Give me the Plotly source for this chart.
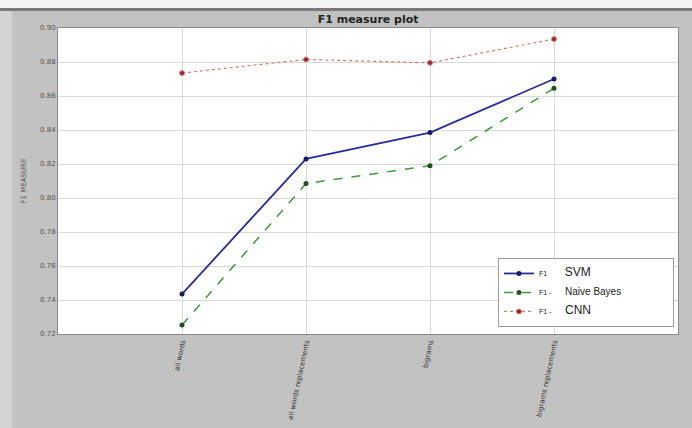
import plotly.graph_objects as go

categories = ["all words", "all words replacements", "bigrams", "bigrams replacements"]
svm = [0.7435, 0.823, 0.8385, 0.870]
naive_bayes = [0.7253, 0.8085, 0.819, 0.8645]
cnn = [0.8735, 0.8815, 0.8795, 0.8935]
y_ticks = [0.72, 0.74, 0.76, 0.78, 0.80, 0.82, 0.84, 0.86, 0.88, 0.90]

x = list(range(len(categories)))

sp = "&nbsp;"
fig = go.Figure()
fig.add_trace(go.Scatter(
    x=x, y=svm, mode="lines+markers",
    name="F1 " + sp * 8 + "<span style='font-size:12px'>SVM</span>",
    line=dict(color="#2b2b9c", width=1.8),
    marker=dict(color="#1a1a6a", size=5)))
fig.add_trace(go.Scatter(
    x=x, y=naive_bayes, mode="lines+markers",
    name="F1 - " + sp * 6 + "<span style='font-size:10px'>Naive Bayes</span>" + sp * 24,
    line=dict(color="#3c9a3c", width=1.5, dash="dash"),
    marker=dict(color="#1f4f1f", size=5)))
fig.add_trace(go.Scatter(
    x=x, y=cnn, mode="lines+markers",
    name="F1 - " + sp * 6 + "<span style='font-size:12px'>CNN</span>",
    line=dict(color="#d77a6a", width=1.2, dash="dot"),
    marker=dict(color="#8a2a2a", size=5, line=dict(color="#e08080", width=1))))

H = 306.0
W = 620.0
fig.update_layout(
    width=692, height=428,
    margin=dict(l=58, r=14, t=28, b=94, pad=0),
    paper_bgcolor="#c2c2c2",
    plot_bgcolor="#ffffff",
    font=dict(family="DejaVu Sans", color="#333333", size=7),
    title=dict(text="<b>F1 measure plot</b>", x=0.532, xanchor="center",
               y=1 - 19 / 428, yanchor="middle",
               font=dict(family="DejaVu Sans", size=11, color="#222222")),
    showlegend=True,
    legend=dict(x=0.9935, y=0.023, xanchor="right", yanchor="bottom",
                bgcolor="#ffffff", bordercolor="#9a9a9a", borderwidth=1,
                font=dict(family="Liberation Sans", size=7, color="#222222"),
                itemwidth=30, tracegroupgap=0),
    shapes=[
        dict(type="rect", xref="paper", yref="paper",
             x0=-60 / W, x1=1 + 16 / W, y0=1 + 20 / H, y1=1 + 30 / H,
             fillcolor="#f4f4f4", line=dict(width=0), layer="below"),
        dict(type="rect", xref="paper", yref="paper",
             x0=-60 / W, x1=1 + 16 / W, y0=1 + 17 / H, y1=1 + 20 / H,
             fillcolor="#7a7a7a", line=dict(width=0), layer="below"),
        dict(type="rect", xref="paper", yref="paper",
             x0=-60 / W, x1=-46 / W, y0=-100 / H, y1=1 + 17 / H,
             fillcolor="#d4d4d4", line=dict(width=0), layer="below"),
    ],
)
fig.update_xaxes(
    range=[-1, 4], tickmode="array", tickvals=x, ticktext=categories,
    tickangle=-78, tickfont=dict(size=7, color="#333333"),
    showgrid=True, gridcolor="#d9d9d9", gridwidth=1,
    showline=True, linecolor="#8a8a8a", mirror=True, zeroline=False,
    ticks="", fixedrange=True, automargin=False)
fig.update_yaxes(
    range=[0.72, 0.90], tickmode="array", tickvals=y_ticks,
    ticktext=[f"{v:.2f}" for v in y_ticks],
    tickfont=dict(size=7, color="#555555"),
    title=dict(text="F1 MEASURE", font=dict(size=7, color="#555555"), standoff=12),
    showgrid=True, gridcolor="#d9d9d9", gridwidth=1,
    showline=True, linecolor="#8a8a8a", mirror=True, zeroline=False,
    ticks="", fixedrange=True, automargin=False)

fig.write_html("out.html", config={"displayModeBar": False},
               post_script="document.body.style.margin='0px';")
